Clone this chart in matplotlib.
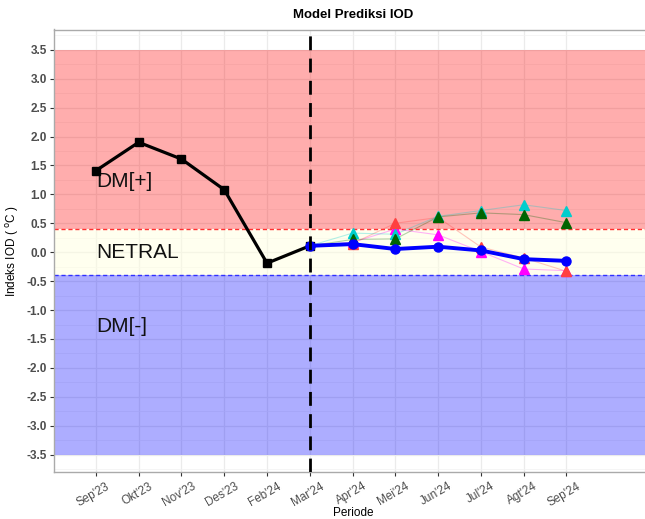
import matplotlib
matplotlib.use('Agg')
import matplotlib.pyplot as plt
import matplotlib.transforms as mtransforms
from matplotlib.ticker import MultipleLocator

plt.rcParams['font.family'] = ['Liberation Sans', 'DejaVu Sans']

periods = ["Sep'23", "Okt'23", "Nov'23", "Des'23", "Feb'24", "Mar'24",
           "Apr'24", "Mei'24", "Jun'24", "Jul'24", "Agt'24", "Sep'24"]

# observed index (Sep'23 .. Mar'24)
obs = [1.41, 1.90, 1.61, 1.08, -0.19, 0.11]

# model predictions (Mar'24 .. Sep'24), first value = last observation
pred_mean = [0.11, 0.14, 0.055, 0.095, 0.03, -0.12, -0.15]
model_red = [0.11, 0.15, 0.50, 0.60, 0.09, -0.10, -0.33]
model_magenta = [0.11, 0.17, 0.40, 0.30, 0.01, -0.29, -0.32]
model_cyan = [0.11, 0.33, 0.31, 0.62, 0.72, 0.82, 0.72]
model_green = [0.11, 0.22, 0.23, 0.61, 0.68, 0.65, 0.51]

models = [(model_magenta, '#FF00FF'), (model_red, '#FF4040'),
          (model_cyan, '#00CDCD'), (model_green, '#006400')]

fig = plt.figure(figsize=(6.45, 5.19), dpi=100)
ax = fig.add_axes([54/645, 1 - 472/519, 598/645, 442.5/519])

ax.set_xlim(-0.98, 13.0)
ax.set_ylim(-3.80, 3.85)

# grid
ax.yaxis.set_minor_locator(MultipleLocator(0.25))
ax.set_yticks([v / 2 for v in range(-7, 8)])
ax.set_yticklabels(['%.1f' % (v / 2) for v in range(-7, 8)])
ax.grid(which='major', color='#EBEBEB', linewidth=0.9, zorder=0)
ax.grid(which='minor', axis='y', color='#F2F2F2', linewidth=0.5, zorder=0)
ax.set_axisbelow(True)

# zones
ax.axhspan(0.4, 3.5, color='#FF0000', alpha=0.32, lw=0, zorder=1)
ax.axhspan(-0.4, 0.4, color='#FFFFE0', alpha=0.5, lw=0, zorder=1)
ax.axhspan(-3.5, -0.4, color='#0000FF', alpha=0.32, lw=0, zorder=1)
ax.axhline(0.4, color='#FF3030', linestyle=(0, (3, 2)), linewidth=1.0, zorder=2)
ax.axhline(-0.4, color='#3030FF', linestyle=(0, (3, 2)), linewidth=1.0, zorder=2)

ax.text(0, 1.22, 'DM[+]', fontsize=15, ha='left', va='center', color='#111111', zorder=3)
ax.text(0, 0.0, 'NETRAL', fontsize=15, ha='left', va='center', color='#111111', zorder=3)
ax.text(0, -1.28, 'DM[-]', fontsize=15, ha='left', va='center', color='#111111', zorder=3)

# observed
xo = list(range(len(obs)))
ax.plot(xo, obs, color='black', linewidth=2.3, marker='s', markersize=5.5, zorder=6)

# individual models
xp = list(range(5, 5 + len(pred_mean)))
for vals, col in models:
    ax.plot(xp, vals, color=col, linewidth=0.8, alpha=0.3, zorder=4)
for vals, col in models:
    ax.plot(xp[1:], vals[1:], linestyle='none', marker='^', markersize=7.5,
            color=col, zorder=5)

ax.plot(xp, pred_mean, color='#0000FF', linewidth=2.8, marker='o', markersize=6.5, zorder=7)

ax.axvline(5, color='black', linestyle=(0, (5, 3)), linewidth=2.0, zorder=8)

ax.set_xticks(range(len(periods)))
ax.set_xticklabels(periods, rotation=30, ha='right', va='top', rotation_mode='anchor')
ax.tick_params(axis='x', labelsize=8.5, labelcolor='#4D4D4D', length=3, color='#333333', pad=3)
ax.tick_params(axis='y', labelsize=8.5, labelcolor='#4D4D4D', length=3, color='#333333', pad=2)
ax.tick_params(which='minor', length=0)
shift = mtransforms.ScaledTranslation(10 / 100, 0, fig.dpi_scale_trans)
for lab in ax.get_xticklabels():
    lab.set_transform(lab.get_transform() + shift)
for lab in ax.get_yticklabels():
    lab.set_fontweight('bold')

for sp in ax.spines.values():
    sp.set_color('#AAAAAA')
    sp.set_linewidth(1.0)

ax.set_title('Model Prediksi IOD', fontsize=9.5, fontweight='bold', pad=8)
ax.set_xlabel('Periode', fontsize=8.5, labelpad=-1)
ax.set_ylabel(r'Indeks IOD ( $^{\mathrm{o}}$C )', fontsize=8.5, labelpad=4)

plt.savefig('out.png', dpi=100)
